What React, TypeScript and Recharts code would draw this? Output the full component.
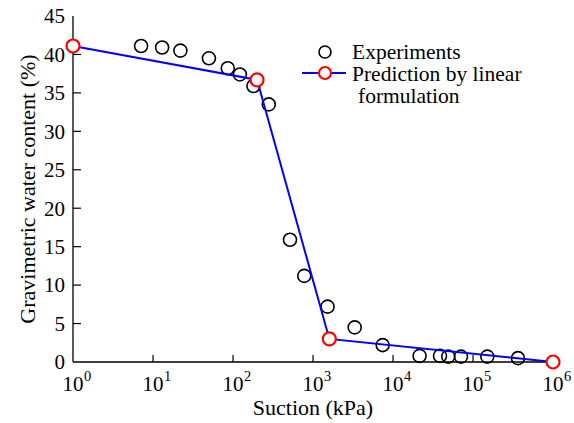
import { ScatterChart, Scatter, XAxis, YAxis } from "recharts";

// experimental points (suction in kPa, water content in %)
const expSuction = [7.1, 13, 22, 50, 86, 122, 180, 280, 516, 777, 1520, 3320, 7430, 21500, 38700, 49000, 70800, 151000, 365000];
const expWater = [41.1, 40.9, 40.5, 39.5, 38.2, 37.4, 35.9, 33.5, 15.9, 11.2, 7.2, 4.5, 2.2, 0.8, 0.8, 0.7, 0.7, 0.7, 0.5];

// linear formulation prediction
const predSuction = [1, 200, 1600, 1000000];
const predWater = [41.1, 36.7, 3.0, 0];

const xTicks = [1, 10, 100, 1000, 10000, 100000, 1000000];
const yTicks = [0, 5, 10, 15, 20, 25, 30, 35, 40, 45];

const expData = expSuction.map((x, i) => ({ x, y: expWater[i] }));
const predData = predSuction.map((x, i) => ({ x, y: predWater[i] }));

const FONT = "'Liberation Serif', 'Times New Roman', Times, serif";
const serif = { fontFamily: FONT };

const BottomTick = (props: any) => {
  const { x, y, payload } = props;
  const exp = Math.round(Math.log10(payload.value));
  const inner = exp > 0 && exp < 6;
  return (
    <g>
      {inner && <line x1={x} x2={x} y1={y} y2={y - 7} stroke="#000" strokeWidth={1.2} />}
      <text x={x} y={y + 29} textAnchor="middle" fontSize={21} style={serif} fill="#000">10</text>
      <text x={x + 11} y={y + 19} textAnchor="start" fontSize={14.5} style={serif} fill="#000">{exp}</text>
    </g>
  );
};

const TopTick = (props: any) => {
  const { x, y, payload } = props;
  const exp = Math.round(Math.log10(payload.value));
  if (exp <= 0 || exp >= 6) return <g />;
  return <line x1={x} x2={x} y1={y} y2={y + 7} stroke="#000" strokeWidth={1.2} />;
};

const LeftTick = (props: any) => {
  const { x, y, payload } = props;
  const inner = payload.value > 0 && payload.value < 45;
  return (
    <g>
      {inner && <line x1={x} x2={x + 8} y1={y} y2={y} stroke="#000" strokeWidth={1.2} />}
      <text x={x - 8} y={y} dy="0.35em" textAnchor="end" fontSize={21} style={serif} fill="#000">
        {payload.value}
      </text>
    </g>
  );
};

const RightTick = (props: any) => {
  const { x, y, payload } = props;
  if (payload.value <= 0 || payload.value >= 45) return <g />;
  return <line x1={x} x2={x - 8} y1={y} y2={y} stroke="#000" strokeWidth={1.2} />;
};

const OpenCircle = (p: any) => (
  <circle cx={p.cx} cy={p.cy} r={6.5} fill="none" stroke="#000" strokeWidth={1.6} />
);

const RedCircle = (p: any) => (
  <circle cx={p.cx} cy={p.cy} r={6.5} fill="#fff" stroke="#ff0000" strokeWidth={2.2} />
);

const LegendBox = () => (
  <g style={serif} fontSize={21.5} fill="#000">
    <circle cx={325} cy={52} r={6} fill="none" stroke="#000" strokeWidth={1.6} />
    <text x={352} y={59}>Experiments</text>
    <line x1={302} x2={346} y1={73} y2={73} stroke="#0000ff" strokeWidth={2} />
    <circle cx={325} cy={73} r={6} fill="#fff" stroke="#ff0000" strokeWidth={2.2} />
    <text x={352} y={81}>Prediction by linear</text>
    <text x={358} y={103}>formulation</text>
  </g>
);

const XTitle = (props: any) => {
  const { viewBox } = props;
  return (
    <text x={viewBox.x + viewBox.width / 2} y={415} textAnchor="middle" fontSize={22} style={serif} fill="#000">
      Suction (kPa)
    </text>
  );
};

const YTitle = (props: any) => {
  const { viewBox } = props;
  const cy = viewBox.y + viewBox.height / 2;
  return (
    <text
      x={27}
      y={cy}
      dy="0.35em"
      transform={`rotate(-90 27 ${cy})`}
      textAnchor="middle"
      fontSize={22}
      style={serif}
      fill="#000"
    >
      Gravimetric water content (%)
    </text>
  );
};

export default function App() {
  return (
    <div style={{ position: "fixed", left: 0, top: 0, background: "#fff", fontFamily: FONT }}>
      <ScatterChart width={574} height={423} margin={{ top: 16, right: 21, left: 0, bottom: 0 }} style={serif}>
        <XAxis
          xAxisId="bottom"
          dataKey="x"
          type="number"
          scale="log"
          domain={[1, 1000000]}
          ticks={xTicks}
          height={61}
          tickSize={0}
          tickMargin={0}
          tickLine={false}
          tick={<BottomTick />}
          interval={0}
          axisLine={{ stroke: "#000", strokeWidth: 1.3 }}
          label={<XTitle />}
        />
        <XAxis
          xAxisId="top"
          orientation="top"
          dataKey="x"
          type="number"
          scale="log"
          domain={[1, 1000000]}
          ticks={xTicks}
          height={0}
          tickSize={0}
          tickMargin={0}
          tickLine={false}
          tick={<TopTick />}
          interval={0}
          axisLine={{ stroke: "#000", strokeWidth: 1.3 }}
        />
        <YAxis
          yAxisId="left"
          dataKey="y"
          type="number"
          domain={[0, 45]}
          ticks={yTicks}
          width={73}
          tickSize={0}
          tickMargin={0}
          tickLine={false}
          tick={<LeftTick />}
          interval={0}
          axisLine={{ stroke: "#000", strokeWidth: 1.3 }}
          label={<YTitle />}
        />
        <YAxis
          yAxisId="right"
          orientation="right"
          dataKey="y"
          type="number"
          domain={[0, 45]}
          ticks={yTicks}
          width={0}
          tickSize={0}
          tickMargin={0}
          tickLine={false}
          tick={<RightTick />}
          interval={0}
          axisLine={{ stroke: "#000", strokeWidth: 1.3 }}
        />
        <Scatter
          name="Experiments"
          data={expData}
          xAxisId="bottom"
          yAxisId="left"
          shape={OpenCircle}
          isAnimationActive={false}
        />
        <Scatter
          name="Prediction by linear formulation"
          data={predData}
          xAxisId="bottom"
          yAxisId="left"
          line={{ stroke: "#0000ff", strokeWidth: 2 }}
          lineType="joint"
          shape={RedCircle}
          isAnimationActive={false}
        />
        <LegendBox />
      </ScatterChart>
    </div>
  );
}
